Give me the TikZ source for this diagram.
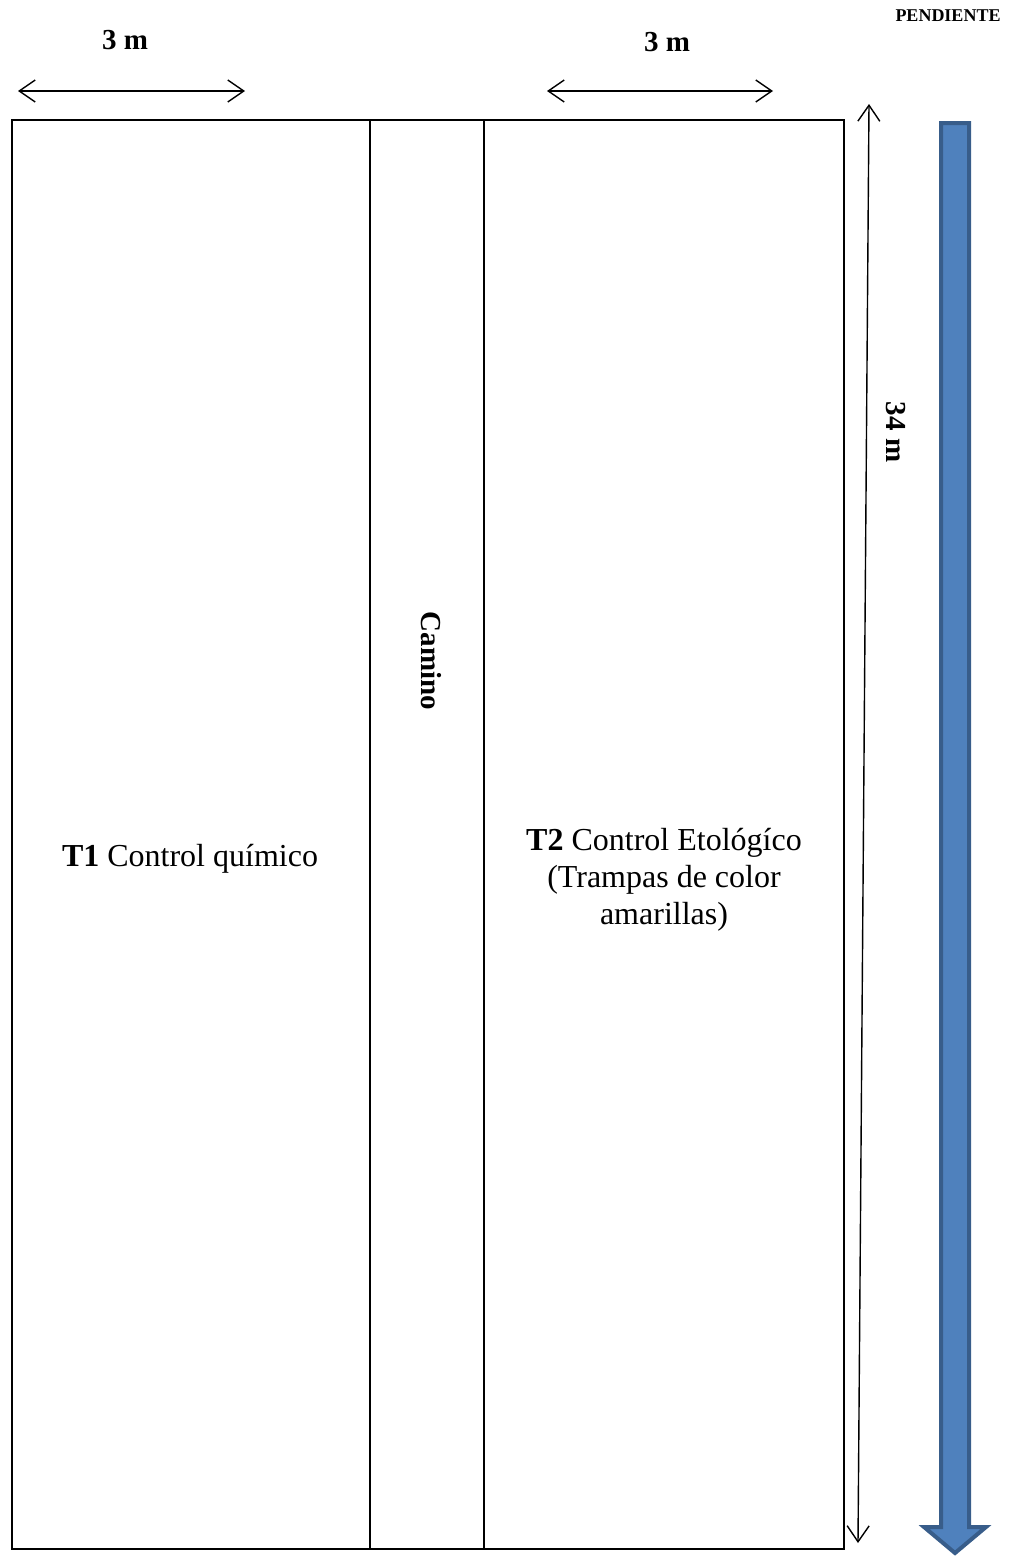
\documentclass[tikz,border=0pt]{standalone}
\usepackage{fontspec}
\setmainfont{Liberation Serif}
\usetikzlibrary{arrows.meta}

\definecolor{slopefill}{HTML}{4F81BD}
\definecolor{slopeline}{HTML}{385D8A}

\tikzset{
  plotline/.style={line width=2.5pt, line join=miter},
  dimarrow/.style={line width=1.4pt, {Straight Barb[length=16pt,width=22pt,line width=1.4pt]}-{Straight Barb[length=16pt,width=22pt,line width=1.4pt]}},
  dimlabel/.style={font=\bfseries\fontsize{29}{34}\selectfont, inner sep=0pt},
  plotlabel/.style={font=\fontsize{32}{37}\selectfont, inner sep=0pt, align=center}
}

\begin{document}
\begin{tikzpicture}[x=1pt, y=-1pt]

    \useasboundingbox (0,0) rectangle (1010,1558);

    % plot outline
    \coordinate (nw) at (12,120);
    \coordinate (se) at (844,1549);
    \draw[plotline] (nw) rectangle (se);
    \draw[plotline] (370,120) -- (370,1549);
    \draw[plotline] (484,120) -- (484,1549);

    % widths
    \coordinate (a1) at (18,91);
    \coordinate (a2) at (245,91);
    \coordinate (b1) at (547,91);
    \coordinate (b2) at (773,91);
    \draw[dimarrow] (a1) -- (a2);
    \draw[dimarrow] (b1) -- (b2);
    \node[dimlabel] (w1) at (125,40) {3 m};
    \node[dimlabel] (w2) at (667,42) {3 m};

    % length
    \coordinate (c1) at (869,104);
    \coordinate (c2) at (858,1543);
    \draw[dimarrow] (c1) -- (c2);
    \node[dimlabel, rotate=-90] (len) at (896,432) {34 m};

    % slope
    \draw[line width=4pt, line join=miter, draw=slopeline, fill=slopefill]
        (941,123) -- (969,123) -- (969,1527) -- (986,1527) -- (955,1553)
        -- (924,1527) -- (941,1527) -- cycle;
    \node[font=\bfseries\fontsize{18}{20}\selectfont, inner sep=0pt] (slope) at (948,16) {PENDIENTE};

    % treatments
    \node[dimlabel, rotate=-90] (path) at (431,661) {Camino};
    \node[plotlabel, anchor=base] (t1) at (190,866) {\textbf{T1} Control químico};
    \node[plotlabel] (t2) at (664,880) {\textbf{T2} Control Etológíco\\(Trampas de color\\amarillas)};

\end{tikzpicture}
\end{document}
